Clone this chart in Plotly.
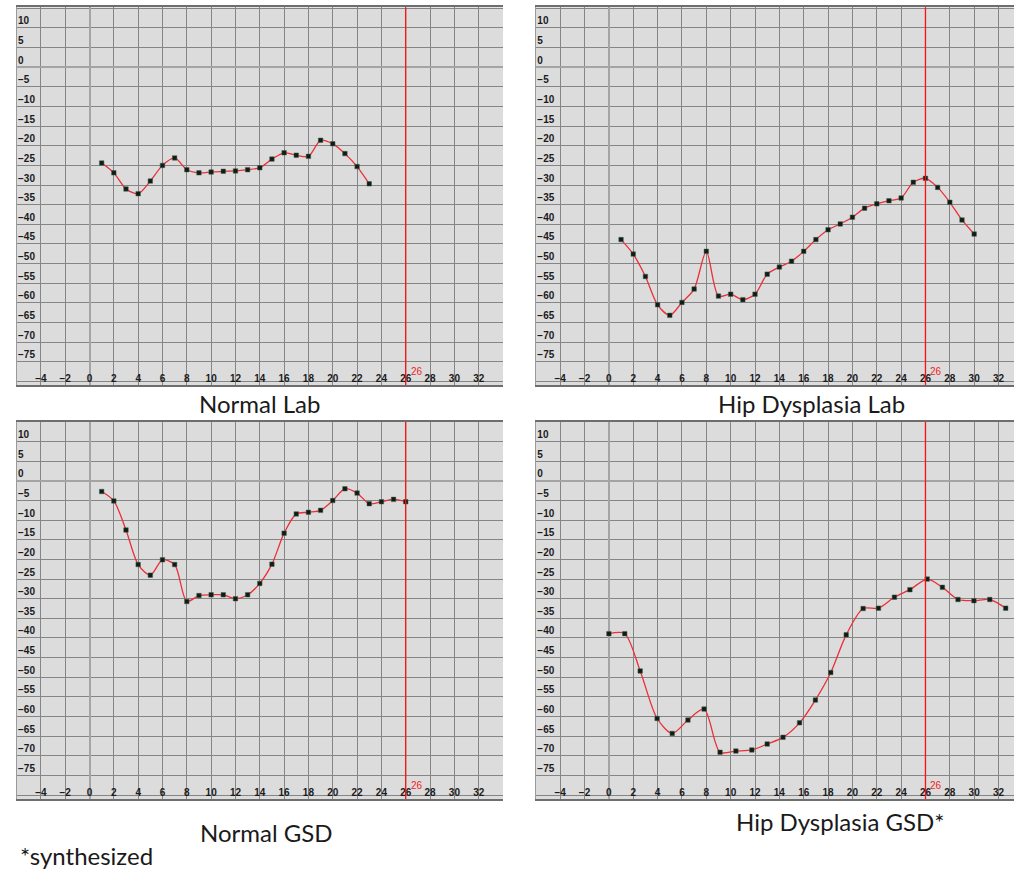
import plotly.graph_objects as go

# ---------------- data ----------------
normal_lab_x = list(range(1, 24))
normal_lab_y = [-24.4, -26.9, -31.0, -32.2, -29.0, -25.0, -23.1, -26.1, -26.9, -26.7,
                -26.5, -26.4, -26.1, -25.6, -23.4, -21.8, -22.4, -22.7, -18.6, -19.5,
                -22.0, -25.3, -29.7]

hip_lab_x = list(range(1, 31))
hip_lab_y = [-43.9, -47.6, -53.3, -60.5, -63.2, -59.9, -56.5, -46.9, -58.3, -57.8,
             -59.2, -57.8, -52.7, -50.9, -49.4, -46.9, -43.9, -41.4, -39.9, -38.2,
             -35.9, -34.8, -34.0, -33.3, -29.3, -28.3, -30.6, -34.4, -38.9, -42.5]

normal_gsd_x = list(range(1, 27))
normal_gsd_y = [-2.7, -5.1, -12.5, -21.3, -24.0, -20.1, -21.3, -30.7, -29.2, -29.0,
                -29.0, -30.0, -29.0, -26.1, -21.2, -13.3, -8.4, -8.0, -7.5, -5.0,
                -2.0, -3.1, -5.8, -5.3, -4.7, -5.3]

hip_gsd_x = [0.0, 1.3, 2.57, 3.96, 5.2, 6.49, 7.82, 9.13, 10.43, 11.74, 13.0, 14.3,
             15.66, 16.96, 18.22, 19.49, 20.88, 22.14, 23.45, 24.72, 26.14, 27.39,
             28.67, 29.98, 31.28, 32.59]
hip_gsd_y = [-38.9, -38.9, -48.4, -60.5, -64.3, -60.9, -58.1, -69.1, -68.8, -68.5,
             -67.0, -65.3, -61.6, -55.8, -48.8, -39.2, -32.5, -32.4, -29.6, -27.7,
             -25.0, -27.1, -30.2, -30.5, -30.2, -32.4]

panel_titles = ["Normal Lab", "Hip Dysplasia Lab", "Normal GSD", "Hip Dysplasia GSD*"]
footnote = "*synthesized"

marker_x_value = 26
marker_label = "26"

x_tick_vals = list(range(-6, 34, 2))
x_tick_text = [("\u2212" + str(-v)) if v < 0 else str(v) for v in x_tick_vals]
y_tick_vals = list(range(-80, 20, 5))
y_tick_text = ["" if v in (-80, 15) else (("\u2212" + str(-v)) if v < 0 else str(v))
               for v in y_tick_vals]

# ---------------- layout geometry ----------------
W, H = 1014, 869
def px_x(a, b):
    return [a / W, b / W]
def px_y(top, bottom):
    return [1 - bottom / H, 1 - top / H]

panels = [
    dict(x=normal_lab_x, y=normal_lab_y, xd=px_x(10.6, 500), yd=px_y(7.3, 385),
         xr=[-6, 34], yr=[-80.94, 15.27]),
    dict(x=hip_lab_x, y=hip_lab_y, xd=px_x(533, 1014), yd=px_y(7.3, 385),
         xr=[-6, 33.27], yr=[-80.94, 15.27]),
    dict(x=normal_gsd_x, y=normal_gsd_y, xd=px_x(10.6, 500), yd=px_y(422, 799),
         xr=[-6, 34], yr=[-81.0, 15.0]),
    dict(x=hip_gsd_x, y=hip_gsd_y, xd=px_x(533, 1014), yd=px_y(422, 799),
         xr=[-6, 33.27], yr=[-81.0, 15.0]),
]

fig = go.Figure()
tick_font = dict(family="Liberation Sans", size=10, color="#1a1a1a", weight="bold")
grid_col = "#858585"

for i, p in enumerate(panels, start=1):
    sfx = "" if i == 1 else str(i)
    fig.add_trace(go.Scatter(
        x=p["x"], y=p["y"], mode="lines+markers",
        line=dict(color="#ec2f38", width=1.3, shape="spline", smoothing=0.8),
        marker=dict(symbol="square", size=4.5, color="#0c1f15",
                    line=dict(width=0.5, color="#4a5a50")),
        xaxis="x" + sfx, yaxis="y" + sfx, showlegend=False, hoverinfo="x+y"))

    fig.layout["xaxis" + sfx] = dict(
        domain=p["xd"], anchor="y" + sfx, range=p["xr"],
        tickvals=x_tick_vals, ticktext=x_tick_text, ticks="",
        ticklabelposition="inside", ticklabeloverflow="allow", tickfont=tick_font,
        showgrid=True, gridcolor=grid_col, gridwidth=1,
        zeroline=True, zerolinecolor="#a4a4a4", zerolinewidth=1.5,
        showline=True, linecolor="#6e6e6e", linewidth=2, mirror=True,
        fixedrange=True)
    fig.layout["yaxis" + sfx] = dict(
        domain=p["yd"], anchor="x" + sfx, range=p["yr"],
        tickvals=y_tick_vals, ticktext=y_tick_text, ticks="",
        ticklabelposition="inside top", tickfont=tick_font,
        showgrid=True, gridcolor=grid_col, gridwidth=1,
        zeroline=True, zerolinecolor="#a4a4a4", zerolinewidth=1.5,
        showline=True, linecolor="#9a9a9a", linewidth=1, mirror=False,
        fixedrange=True)

    fig.add_shape(type="line", xref="x" + sfx, yref="y" + sfx + " domain",
                  x0=marker_x_value, x1=marker_x_value, y0=0, y1=1,
                  line=dict(color="#ff1010", width=1.3), layer="above")
    fig.add_annotation(xref="x" + sfx, yref="y" + sfx, x=marker_x_value, y=-77.6,
                       text=marker_label, showarrow=False, xanchor="left",
                       yanchor="middle", xshift=3,
                       font=dict(family="Liberation Sans", size=10, color="#f01e1e"))

caption_font = dict(family="Lato", size=24, color="#1a1a1a")
captions = [(255.5, 403), (810, 403), (262, 832), (839, 821)]
for title, (cx, cy) in zip(panel_titles, captions):
    fig.add_annotation(xref="paper", yref="paper", x=cx / W, y=1 - cy / H,
                       text=title, showarrow=False, xanchor="center",
                       yanchor="middle", font=caption_font)
fig.add_annotation(xref="paper", yref="paper", x=12 / W, y=1 - 855 / H,
                   text=footnote, showarrow=False, xanchor="left",
                   yanchor="middle", font=caption_font)

fig.update_layout(
    width=W, height=H, margin=dict(l=0, r=0, t=0, b=0),
    paper_bgcolor="white", plot_bgcolor="#dcdcdc",
)

fig.write_html("out.html")
